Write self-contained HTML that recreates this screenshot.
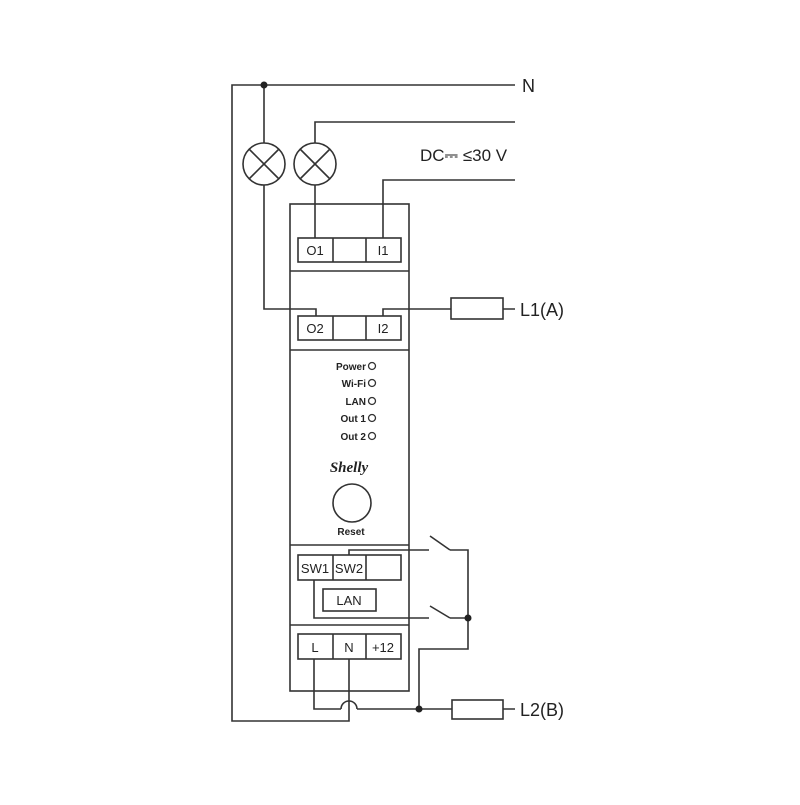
<!DOCTYPE html>
<html><head><meta charset="utf-8"><style>body{margin:0;background:#fff}</style></head>
<body>
<svg width="800" height="800" viewBox="0 0 800 800" xmlns="http://www.w3.org/2000/svg">
<rect width="800" height="800" fill="#fff"/>
<g fill="none" stroke="#333" stroke-width="1.6">
<!-- N line & left loop -->
<polyline points="515,85 232,85 232,721 349,721 349,659"/>
<!-- lamp1 -->
<line x1="264" y1="85" x2="264" y2="143"/>
<circle cx="264" cy="164" r="21"/>
<line x1="249" y1="149" x2="279" y2="179"/><line x1="279" y1="149" x2="249" y2="179"/>
<polyline points="264,185 264,309 316,309 316,316"/>
<!-- lamp2 -->
<polyline points="515,122 315,122 315,143"/>
<circle cx="315" cy="164" r="21"/>
<line x1="300" y1="149" x2="330" y2="179"/><line x1="330" y1="149" x2="300" y2="179"/>
<line x1="315" y1="185" x2="315" y2="238"/>
<polyline points="515,180 383,180 383,238"/>
<!-- I2 to L1 -->
<polyline points="383,316 383,309 515,309"/>
<rect x="451" y="298" width="52" height="21" fill="#fff"/>
<!-- device -->
<rect x="290" y="204" width="119" height="487"/>
<line x1="290" y1="271" x2="409" y2="271"/>
<line x1="290" y1="350" x2="409" y2="350"/>
<line x1="290" y1="545" x2="409" y2="545"/>
<line x1="290" y1="625" x2="409" y2="625"/>
<rect x="298" y="238" width="103" height="24"/><line x1="333" y1="238" x2="333" y2="262"/><line x1="366" y1="238" x2="366" y2="262"/>
<rect x="298" y="316" width="103" height="24"/><line x1="333" y1="316" x2="333" y2="340"/><line x1="366" y1="316" x2="366" y2="340"/>
<rect x="298" y="555" width="103" height="25"/><line x1="333" y1="555" x2="333" y2="580"/><line x1="366" y1="555" x2="366" y2="580"/>
<rect x="323" y="589" width="53" height="22"/>
<rect x="298" y="634" width="103" height="25"/><line x1="333" y1="634" x2="333" y2="659"/><line x1="366" y1="634" x2="366" y2="659"/>
<!-- LEDs -->
<circle cx="372" cy="366" r="3.5" stroke-width="1.3"/><circle cx="372" cy="383" r="3.5" stroke-width="1.3"/>
<circle cx="372" cy="401" r="3.5" stroke-width="1.3"/><circle cx="372" cy="418" r="3.5" stroke-width="1.3"/>
<circle cx="372" cy="436" r="3.5" stroke-width="1.3"/>
<circle cx="352" cy="503" r="19"/>
<!-- switches -->
<polyline points="349,555 349,550 429,550"/>
<line x1="430" y1="536" x2="450" y2="550"/>
<polyline points="450,550 468,550 468,649 419,649 419,709"/>
<polyline points="314,580 314,618 429,618"/>
<line x1="430" y1="606" x2="450" y2="618"/>
<line x1="450" y1="618" x2="468" y2="618"/>
<!-- L wire -->
<polyline points="314,659 314,709 341,709"/>
<path d="M341,709 A8,8 0 0 1 357,709"/>
<line x1="357" y1="709" x2="515" y2="709"/>
<rect x="452" y="700" width="51" height="19" fill="#fff"/>
</g>
<g fill="#222"><circle cx="264" cy="85" r="3.5"/><circle cx="468" cy="618" r="3.5"/><circle cx="419" cy="709" r="3.5"/></g>
<g font-family="Liberation Sans, sans-serif" fill="#222">
<text x="522" y="92" font-size="18">N</text>
<text x="420" y="161" font-size="17">DC⎓ ≤30 V</text>
<text x="520" y="316" font-size="18">L1(A)</text>
<text x="520" y="716" font-size="18">L2(B)</text>
<g font-size="13" text-anchor="middle">
<text x="315" y="255">O1</text><text x="383" y="255">I1</text>
<text x="315" y="333">O2</text><text x="383" y="333">I2</text>
<text x="315" y="573">SW1</text><text x="349" y="573">SW2</text>
<text x="349" y="605">LAN</text>
<text x="315" y="652">L</text><text x="349" y="652">N</text><text x="383" y="652">+12</text>
</g>
<g font-size="10" font-weight="bold" text-anchor="end">
<text x="366" y="370">Power</text><text x="366" y="387">Wi-Fi</text><text x="366" y="405">LAN</text>
<text x="366" y="422">Out 1</text><text x="366" y="440">Out 2</text>
</g>
<text x="349" y="472" font-size="15" font-weight="bold" font-style="italic" font-family="Liberation Serif, serif" text-anchor="middle">Shelly</text>
<text x="351" y="535" font-size="10" font-weight="bold" text-anchor="middle">Reset</text>
</g>
</svg>
</body></html>
